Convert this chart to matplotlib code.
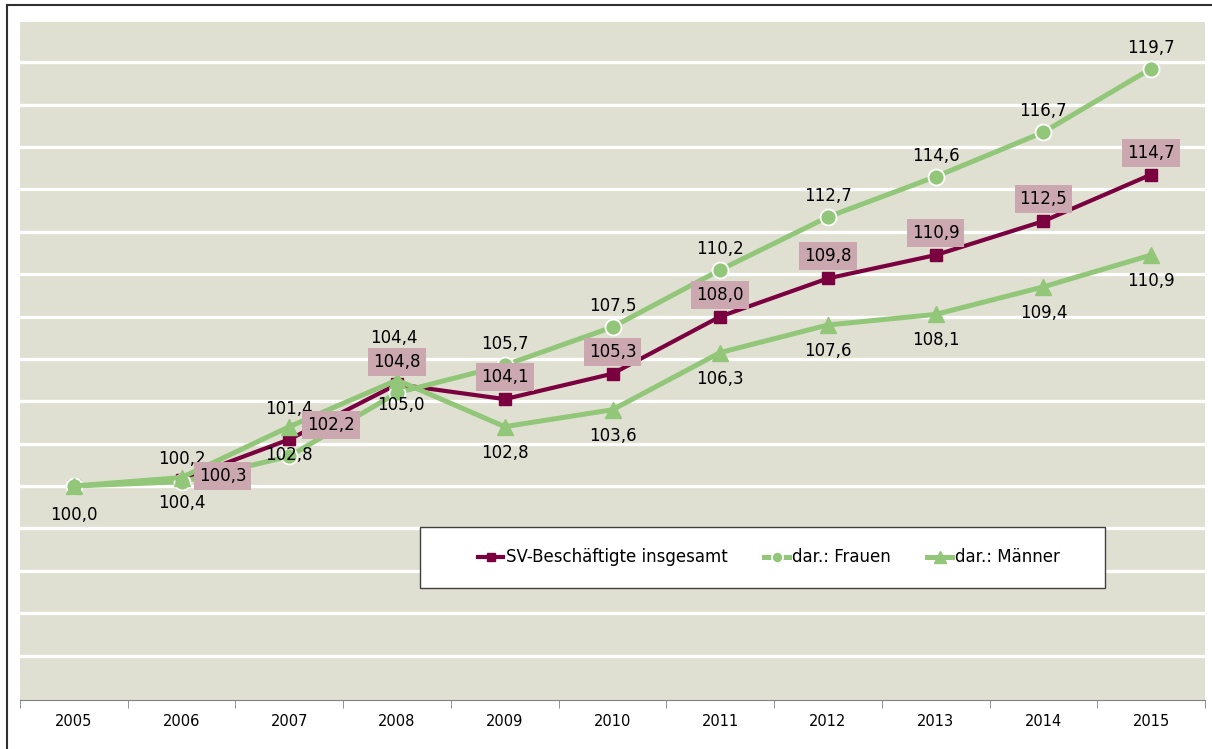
import matplotlib
matplotlib.use('Agg')
import matplotlib.pyplot as plt
from matplotlib.lines import Line2D
from matplotlib.patches import Rectangle

# data
years = ['2005', '2006', '2007', '2008', '2009', '2010',
         '2011', '2012', '2013', '2014', '2015']
total = [100.0, 100.3, 102.2, 104.8, 104.1, 105.3, 108.0, 109.8, 110.9, 112.5, 114.7]
frauen = [100.0, 100.2, 101.4, 104.4, 105.7, 107.5, 110.2, 112.7, 114.6, 116.7, 119.7]
maenner = [100.0, 100.4, 102.8, 105.0, 102.8, 103.6, 106.3, 107.6, 108.1, 109.4, 110.9]

MAROON = '#7A0040'
GREEN = '#92C77A'
BG = '#E0E0D2'
PINK = '#CBA8B0'

plt.rcParams['font.family'] = ['DejaVu Sans']

fig = plt.figure(figsize=(12.12, 7.49), dpi=100)
fig.patch.set_facecolor('white')
W, H = 1212, 749
ax = fig.add_axes([20 / W, 1 - 700 / H, 1185 / W, 678 / H])
ax.set_facecolor(BG)

x = list(range(len(years)))
ax.set_xlim(-0.5, len(years) - 0.5)
ax.set_ylim(89.9, 121.9)

for g in range(92, 122, 2):
    ax.axhline(g, color='white', lw=2.3, zorder=1)

ax.plot(x, total, color=MAROON, lw=3, marker='s', ms=9, zorder=3,
        label='SV-Beschäftigte insgesamt')
ax.plot(x, frauen, color=GREEN, lw=3.6, marker='o', ms=11.5, mec='white', mew=1.3,
        zorder=4, label='dar.: Frauen')
ax.plot(x, maenner, color=GREEN, lw=3.6, marker='^', ms=12, zorder=5,
        label='dar.: Männer')


def fmt(v):
    return f'{v:.1f}'.replace('.', ',')


# label offsets in image pixels (dx, dy downwards); None = no label
off_total = [None, (41, -4), (42, -14)] + [(0, -22)] * 8
off_frauen = [None, (0, -23), (0, -47), (-3, -55)] + [(0, -21)] * 7
off_maenner = [(0, 29), (0, 25), (0, 28), (4, 25)] + [(0, 26)] * 7

for vals, offs, boxed in [(frauen, off_frauen, False), (maenner, off_maenner, False),
                          (total, off_total, True)]:
    for xi, v, o in zip(x, vals, offs):
        if o is None:
            continue
        kw = {}
        if boxed:
            kw['bbox'] = dict(boxstyle='square,pad=0.3', fc=PINK, ec='none')
        ax.annotate(fmt(v), (xi, v), xytext=(o[0], -o[1]), textcoords='offset pixels',
                    ha='center', va='center', fontsize=12, color='black', zorder=10, **kw)

# axes styling
for s in ['top', 'right', 'left']:
    ax.spines[s].set_visible(False)
ax.spines['bottom'].set_color('#808080')
ax.set_yticks([])
ax.set_xticks(x)
ax.set_xticklabels(years, fontsize=10.5)
ax.tick_params(axis='x', which='major', length=0, pad=10)
ax.set_xticks([i - 0.5 for i in range(len(years) + 1)], minor=True)
ax.tick_params(axis='x', which='minor', length=6, color='#808080', direction='out')

# legend box
ax.add_patch(Rectangle(((420 - 20) / 1185, (700 - 588) / 678), 685 / 1185, 61 / 678,
                       transform=ax.transAxes, fc='white', ec='#404040', lw=1, zorder=8))
ax.legend(loc='center', bbox_to_anchor=(0.632, 0.2102), ncol=3, frameon=False,
          fontsize=12, handlelength=1.5, handletextpad=0.15, columnspacing=2.2,
          markerscale=0.7)
ax.get_legend().set_zorder(9)

# outer frame (top and left)
fig.add_artist(Line2D([7 / W, 7 / W], [0, 1 - 5 / H], color='#303030', lw=1.5))
fig.add_artist(Line2D([7 / W, 1], [1 - 5 / H, 1 - 5 / H], color='#303030', lw=1.5))

fig.savefig('out.png', dpi=100, facecolor='white')
